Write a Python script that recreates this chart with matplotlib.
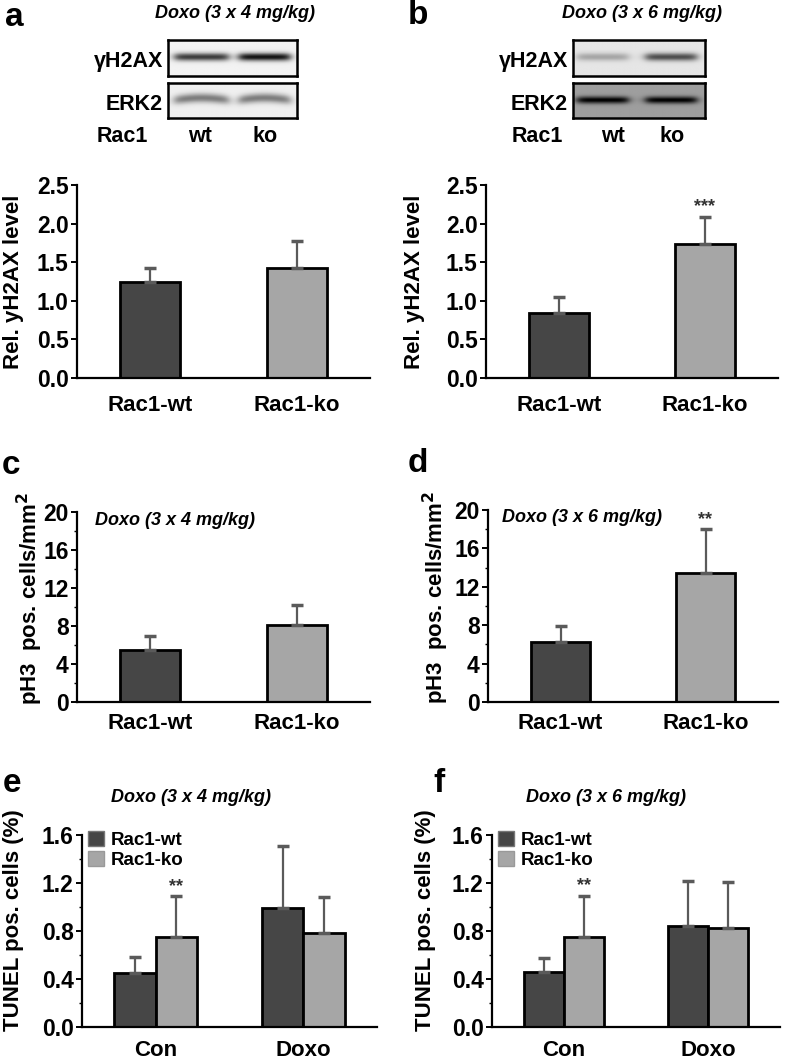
import numpy as np
import matplotlib
matplotlib.use('Agg')
import matplotlib.pyplot as plt
from matplotlib.patches import Patch

W, H = 789, 1060
plt.rcParams['font.family'] = ['Liberation Sans', 'DejaVu Sans']
plt.rcParams['font.weight'] = 'bold'
plt.rcParams['axes.labelweight'] = 'bold'

# ---------------- data ----------------
groups_ab = ['Rac1-wt', 'Rac1-ko']
a_mean = [1.25, 1.43]
a_err = [0.17, 0.34]
b_mean = [0.84, 1.73]
b_err = [0.21, 0.36]
c_mean = [5.5, 8.1]
c_err = [1.4, 2.1]
d_mean = [6.2, 13.4]
d_err = [1.7, 4.6]
ef_cats = ['Con', 'Doxo']
e_wt = [0.45, 0.99]
e_wt_err = [0.13, 0.52]
e_ko = [0.75, 0.78]
e_ko_err = [0.34, 0.305]
f_wt = [0.457, 0.84]
f_wt_err = [0.12, 0.38]
f_ko = [0.75, 0.825]
f_ko_err = [0.345, 0.385]
title_4 = 'Doxo (3 x 4 mg/kg)'
title_6 = 'Doxo (3 x 6 mg/kg)'
legend_labels = ['Rac1-wt', 'Rac1-ko']
blot_lanes = ['wt', 'ko']
blot_rows = ['γH2AX', 'ERK2']
# band darkness (0..1) per lane, and background grey level
blot_a_gh2ax = [0.72, 0.88]
blot_a_erk2 = [0.45, 0.45]
blot_b_gh2ax = [0.25, 0.6]
blot_b_erk2 = [0.62, 0.62]
blot_a_bg = [0.95, 0.94]
blot_b_bg = [0.90, 0.62]

DARK = '#464646'
LIGHT = '#a6a6a6'
ECOL = '#5a5a5a'

fig = plt.figure(figsize=(W / 100, H / 100), dpi=100)


def ax_px(l, t, r, b):
    return fig.add_axes([l / W, 1 - b / H, (r - l) / W, (b - t) / H])


def txt(x, y, s, **kw):
    fig.text(x / W, 1 - y / H, s, **kw)


def style(ax, ylim, yticks, minor=None, xpad=10):
    ax.set_ylim(*ylim)
    ax.set_yticks(yticks)
    if minor is not None:
        ax.set_yticks(minor, minor=True)
    for s in ['top', 'right']:
        ax.spines[s].set_visible(False)
    for s in ['left', 'bottom']:
        ax.spines[s].set_linewidth(1.6)
    ax.tick_params(axis='y', which='major', direction='out', length=4, width=1.4,
                   labelsize=16.5, pad=2)
    ax.tick_params(axis='y', which='minor', direction='out', length=2.5, width=1.0)
    ax.tick_params(axis='x', length=0, labelsize=16, pad=xpad)


def ylabel(ax, s, xpix, left, width, yfrac):
    ax.set_ylabel(s, fontsize=16, va='center')
    ax.yaxis.set_label_coords(-(left - xpix) / width, yfrac)


def two_bars(ax, means, errs, labels):
    x = np.arange(len(means))
    ax.bar(x, means, width=0.41, color=[DARK, LIGHT], edgecolor='black', linewidth=2,
           yerr=[np.zeros(len(errs)), errs],
           error_kw=dict(ecolor=ECOL, elinewidth=1.6, capsize=4.5, capthick=2.5),
           zorder=2)
    ax.set_xlim(-0.5, 1.5)
    ax.set_xticks(x)
    ax.set_xticklabels(labels)
    return x


def grouped(ax, wt, wte, ko, koe, cats):
    x = np.arange(len(cats))
    bw = 0.28
    ek = dict(ecolor=ECOL, elinewidth=1.6, capsize=4.5, capthick=2.5)
    ax.bar(x - bw / 2, wt, width=bw, color=DARK, edgecolor='black', linewidth=2,
           yerr=[np.zeros(len(wt)), wte], error_kw=ek, zorder=2)
    ax.bar(x + bw / 2, ko, width=bw, color=LIGHT, edgecolor='black', linewidth=2,
           yerr=[np.zeros(len(ko)), koe], error_kw=ek, zorder=2)
    ax.set_xlim(-0.5, 1.5)
    ax.set_xticks(x)
    ax.set_xticklabels(cats)
    return x, bw


def star(ax, x, top, s):
    ax.annotate(s, xy=(x, top), xytext=(0, 1), textcoords='offset points',
                ha='center', va='bottom', fontsize=13, fontweight='bold', color='#333333')


# ---------------- blots ----------------
def blot(l, t, r, b, dark, bg, yfrac, wave=0.0, lanes=((0.05, 0.47), (0.55, 0.95)), sy=0.09):
    ax = ax_px(l, t, r, b)
    ny, nx = 60, 200
    yy, xx = np.mgrid[0:1:ny * 1j, 0:1:nx * 1j]
    img = np.full((ny, nx), bg)
    for (x0, x1), d in zip(lanes, dark):
        prof = 1 / (1 + np.exp(-(xx - x0) / 0.02)) * 1 / (1 + np.exp((xx - x1) / 0.02))
        yc = yfrac + wave * np.sin(np.pi * (xx - x0) / (x1 - x0)) * -1
        img = img - d * prof * np.exp(-((yy - yc) / sy) ** 2)
    ax.imshow(np.clip(img, 0, 1), cmap='gray', vmin=0, vmax=1, aspect='auto',
              interpolation='bilinear', extent=(0, 1, 1, 0))
    ax.set_xticks([])
    ax.set_yticks([])
    for s in ax.spines.values():
        s.set_linewidth(1.8)
    return ax


blot(168, 40, 297, 76, blot_a_gh2ax, blot_a_bg[0], 0.47, sy=0.11)
blot(168, 83, 297, 118, blot_a_erk2, blot_a_bg[1], 0.5, wave=0.06, sy=0.13)
blot(573, 40, 705, 76, blot_b_gh2ax, blot_b_bg[0], 0.47, lanes=((0.03, 0.42), (0.55, 0.94)), sy=0.11)
blot(573, 83, 705, 118, blot_b_erk2, blot_b_bg[1], 0.5, lanes=((0.03, 0.42), (0.55, 0.94)), sy=0.1)

for (rx, rc, wx, kx, tc) in [(163, 122, 200, 265, 235), (568, 537, 613, 672, 642)]:
    txt(rx, 62, blot_rows[0], ha='right', va='center', fontsize=15.5, fontweight='bold')
    txt(rx, 104, blot_rows[1], ha='right', va='center', fontsize=15.5, fontweight='bold')
    txt(rc, 137, 'Rac1', ha='center', va='center', fontsize=15.5, fontweight='bold')
    txt(wx, 137, blot_lanes[0], ha='center', va='center', fontsize=15.5, fontweight='bold')
    txt(kx, 137, blot_lanes[1], ha='center', va='center', fontsize=15.5, fontweight='bold')
txt(235, 13, title_4, ha='center', va='center', fontsize=13, fontweight='bold', style='italic')
txt(642, 13, title_6, ha='center', va='center', fontsize=13, fontweight='bold', style='italic')

# panel letters
for (lx, ly, s) in [(14, 17, 'a'), (418, 15, 'b'), (11, 466, 'c'), (418, 464, 'd'),
                    (12, 783, 'e'), (439, 783, 'f')]:
    txt(lx, ly, s, ha='center', va='center', fontsize=24, fontweight='bold')

# ---------------- panel a ----------------
ax = ax_px(77, 185, 370, 378)
two_bars(ax, a_mean, a_err, groups_ab)
style(ax, (0, 2.5), np.arange(0, 2.51, 0.5), xpad=12)
ax.set_yticklabels([f'{v:.1f}' for v in np.arange(0, 2.51, 0.5)])
ylabel(ax, 'Rel. yH2AX level', 14, 77, 293, 0.5)

# ---------------- panel b ----------------
ax = ax_px(486, 185, 778, 378)
x = two_bars(ax, b_mean, b_err, groups_ab)
style(ax, (0, 2.5), np.arange(0, 2.51, 0.5), xpad=12)
ax.set_yticklabels([f'{v:.1f}' for v in np.arange(0, 2.51, 0.5)])
ylabel(ax, 'Rel. yH2AX level', 414, 486, 292, 0.5)
star(ax, x[1], b_mean[1] + b_err[1], '***')

# ---------------- panel c ----------------
ax = ax_px(77, 512, 370, 702)
two_bars(ax, c_mean, c_err, groups_ab)
style(ax, (0, 20), np.arange(0, 21, 4), minor=np.arange(2, 20, 4), xpad=8)
ylabel(ax, 'pH3  pos. cells/mm$^\\mathbf{2}$', 30, 77, 293, 0.545)
ax.text(0.06, 0.955, title_4, transform=ax.transAxes, ha='left', va='center',
        fontsize=13, fontweight='bold', style='italic')

# ---------------- panel d ----------------
ax = ax_px(488, 510, 778, 702)
x = two_bars(ax, d_mean, d_err, groups_ab)
style(ax, (0, 20), np.arange(0, 21, 4), minor=np.arange(2, 20, 4), xpad=8)
ylabel(ax, 'pH3  pos. cells/mm$^\\mathbf{2}$', 436, 488, 290, 0.545)
ax.text(0.05, 0.96, title_6, transform=ax.transAxes, ha='left', va='center',
        fontsize=13, fontweight='bold', style='italic')
star(ax, x[1], d_mean[1] + d_err[1], '**')

# ---------------- panels e, f ----------------
handles = [Patch(facecolor=DARK, edgecolor='#777777'), Patch(facecolor=LIGHT, edgecolor='#999999')]
for (l, r, wt, wte, ko, koe, title, tcx, lblx) in [
        (82, 377, e_wt, e_wt_err, e_ko, e_ko_err, title_4, 191, 14),
        (492, 780, f_wt, f_wt_err, f_ko, f_ko_err, title_6, 606, 425)]:
    ax = ax_px(l, 835, r, 1027)
    x, bw = grouped(ax, wt, wte, ko, koe, ef_cats)
    style(ax, (0, 1.6), np.arange(0, 1.61, 0.4), minor=np.arange(0.2, 1.6, 0.4), xpad=9)
    ax.set_yticklabels([f'{v:.1f}' for v in np.arange(0, 1.61, 0.4)])
    ylabel(ax, 'TUNEL pos. cells (%)', lblx, l, r - l, 0.555)
    star(ax, x[0] + bw / 2, ko[0] + koe[0], '**')
    ax.legend(handles, legend_labels, loc='upper left', bbox_to_anchor=(0.02, 1.02),
              frameon=False, handlelength=0.85, handleheight=0.85, handletextpad=0.35,
              labelspacing=0.08, borderpad=0.0, borderaxespad=0.0,
              prop=dict(size=13.5, weight='bold'))
    txt(tcx, 797, title, ha='center', va='center', fontsize=13, fontweight='bold', style='italic')

fig.savefig('out.png', dpi=100)
